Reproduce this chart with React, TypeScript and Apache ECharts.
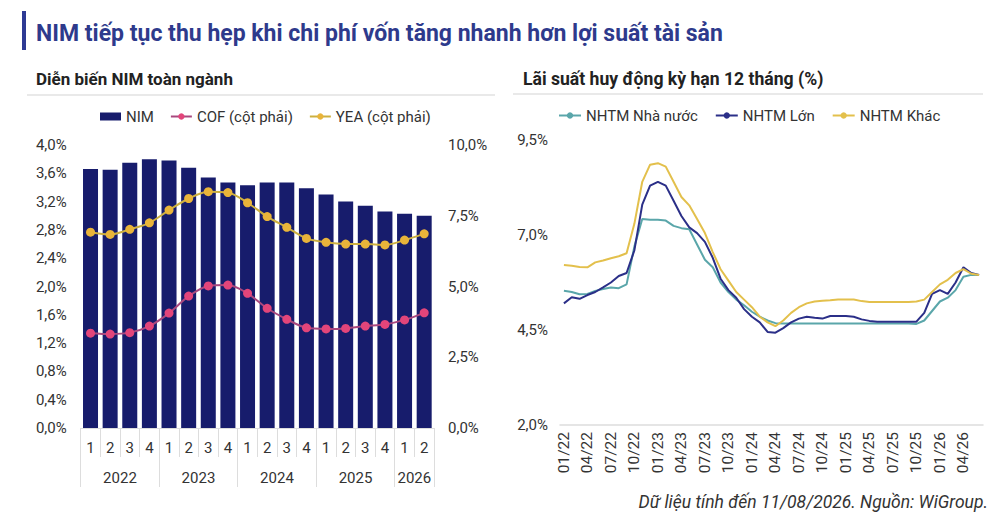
import React, { useEffect, useRef } from "react";
import * as echarts from "echarts";

// ---- Left chart data (quarterly) ----
const quarterLabels = ["1", "2", "3", "4", "1", "2", "3", "4", "1", "2", "3", "4", "1", "2", "3", "4", "1", "2"];
const quarterYears = [2022, 2022, 2022, 2022, 2023, 2023, 2023, 2023, 2024, 2024, 2024, 2024, 2025, 2025, 2025, 2025, 2026, 2026];
const nimValues = [3.66, 3.65, 3.75, 3.8, 3.78, 3.68, 3.54, 3.47, 3.43, 3.47, 3.47, 3.39, 3.3, 3.2, 3.14, 3.06, 3.03, 3.0];
const cofValues = [3.35, 3.32, 3.37, 3.6, 4.06, 4.66, 5.02, 5.05, 4.76, 4.23, 3.84, 3.54, 3.5, 3.52, 3.6, 3.66, 3.82, 4.07];
const yeaValues = [6.92, 6.84, 7.02, 7.25, 7.7, 8.11, 8.35, 8.32, 7.96, 7.47, 7.09, 6.7, 6.56, 6.5, 6.5, 6.47, 6.64, 6.86];
const leftTicks = [0, 0.4, 0.8, 1.2, 1.6, 2.0, 2.4, 2.8, 3.2, 3.6, 4.0];
const rightTicks = [0, 2.5, 5, 7.5, 10];

// ---- Right chart data (monthly) ----
const months = [
  "01/22", "02/22", "03/22", "04/22", "05/22", "06/22", "07/22", "08/22", "09/22", "10/22", "11/22", "12/22",
  "01/23", "02/23", "03/23", "04/23", "05/23", "06/23", "07/23", "08/23", "09/23", "10/23", "11/23", "12/23",
  "01/24", "02/24", "03/24", "04/24", "05/24", "06/24", "07/24", "08/24", "09/24", "10/24", "11/24", "12/24",
  "01/25", "02/25", "03/25", "04/25", "05/25", "06/25", "07/25", "08/25", "09/25", "10/25", "11/25", "12/25",
  "01/26", "02/26", "03/26", "04/26", "05/26", "06/26",
];
const nhaNuoc = [
  5.53, 5.5, 5.44, 5.45, 5.53, 5.58, 5.62, 5.6, 5.7, 6.7,
  7.42, 7.4, 7.4, 7.38, 7.24, 7.18, 7.15, 6.75, 6.35, 6.15,
  5.75, 5.5, 5.3, 5.15, 4.98, 4.85, 4.75, 4.68,
  4.67, 4.67, 4.67, 4.67, 4.67, 4.67, 4.67, 4.67, 4.67, 4.67, 4.67, 4.67, 4.67, 4.67, 4.67, 4.67, 4.67,
  4.66, 4.75, 5.0, 5.25, 5.35, 5.55, 5.9, 5.95, 5.95,
];
const lon = [
  5.2, 5.36, 5.32, 5.42, 5.5, 5.62, 5.75, 5.92, 6.0, 6.6,
  7.8, 8.3, 8.4, 8.3, 7.9, 7.5, 7.2, 7.05, 6.82, 6.4,
  5.85, 5.55, 5.35, 5.05, 4.85, 4.7, 4.45, 4.43, 4.55, 4.7,
  4.8, 4.85, 4.82, 4.8, 4.87, 4.87, 4.87, 4.85, 4.78, 4.74,
  4.72, 4.72, 4.72, 4.72, 4.72, 4.72, 4.95, 5.45, 5.55, 5.45,
  5.75, 6.15, 6.0, 5.95,
];
const khac = [
  6.21, 6.19, 6.16, 6.15, 6.28, 6.33, 6.39, 6.44, 6.52, 7.3,
  8.4, 8.85, 8.89, 8.8, 8.4, 8.0, 7.78, 7.42, 7.05, 6.55,
  6.1, 5.8, 5.5, 5.3, 5.1, 4.85, 4.7, 4.6, 4.75, 4.95,
  5.1, 5.2, 5.25, 5.27, 5.28, 5.3, 5.3, 5.3, 5.26, 5.24,
  5.24, 5.24, 5.24, 5.24, 5.24, 5.25, 5.3, 5.5, 5.7, 5.82,
  6.0, 6.1, 5.98, 5.95,
];
const rateTicks = [2.0, 4.5, 7.0, 9.5];

const FONT = "Roboto, 'Noto Sans', sans-serif";
const pct = (v: number) => v.toFixed(1).replace(".", ",") + "%";

// year groups derived from quarterYears
function yearGroups() {
  const groups: { year: number; start: number; count: number }[] = [];
  quarterYears.forEach((y, i) => {
    const last = groups[groups.length - 1];
    if (last && last.year === y) last.count++;
    else groups.push({ year: y, start: i, count: 1 });
  });
  return groups;
}

export default function App() {
  const ref = useRef<HTMLDivElement>(null);
  useEffect(() => {
    if (!ref.current) return;
    const chart = echarts.init(ref.current, undefined, { renderer: "svg" });
    const groups = yearGroups();
    const yearCenters = groups.map((g) => g.start + g.count / 2);
    const yearBounds = [0, ...groups.map((g) => g.start + g.count)];

    const option: any = {
      animation: false,
      backgroundColor: "#ffffff",
      textStyle: { fontFamily: FONT },
      graphic: [
        { type: "rect", shape: { x: 22, y: 11, width: 4, height: 39 }, style: { fill: "#2e3a94" } },
        {
          type: "text",
          x: 36,
          y: 33,
          style: {
            text: "NIM tiếp tục thu hẹp khi chi phí vốn tăng nhanh hơn lợi suất tài sản",
            fontFamily: FONT,
            fontSize: 23,
            fontWeight: "bold",
            fill: "#2e3a8c",
            verticalAlign: "middle",
          },
        },
        {
          type: "text",
          x: 36,
          y: 79,
          style: {
            text: "Diễn biến NIM toàn ngành",
            fontFamily: FONT,
            fontSize: 17,
            fontWeight: "bold",
            fill: "#222222",
            verticalAlign: "middle",
          },
        },
        {
          type: "text",
          x: 523,
          y: 79,
          style: {
            text: "Lãi suất huy động kỳ hạn 12 tháng (%)",
            fontFamily: FONT,
            fontSize: 17.6,
            fontWeight: "bold",
            fill: "#222222",
            verticalAlign: "middle",
          },
        },
        { type: "line", shape: { x1: 27, y1: 95, x2: 495, y2: 95 }, style: { stroke: "#e2e2e2", lineWidth: 1.5 } },
        { type: "line", shape: { x1: 513, y1: 94, x2: 983, y2: 94 }, style: { stroke: "#e2e2e2", lineWidth: 1.5 } },
        {
          type: "text",
          x: 988,
          y: 502,
          style: {
            text: "Dữ liệu tính đến 11/08/2026. Nguồn: WiGroup.",
            fontFamily: FONT,
            fontSize: 17.5,
            fontStyle: "italic",
            fill: "#333333",
            align: "right",
            verticalAlign: "middle",
          },
        },
      ],
      legend: [
        {
          left: 95,
          top: 104,
          itemWidth: 21,
          itemHeight: 8,
          itemGap: 16,
          textStyle: { fontSize: 15, color: "#333", fontFamily: FONT },
          data: [{ name: "NIM", icon: "rect" }, "COF (cột phải)", "YEA (cột phải)"],
        },
        {
          left: 553,
          top: 103,
          itemWidth: 22,
          itemHeight: 8,
          itemGap: 17,
          textStyle: { fontSize: 15, color: "#333", fontFamily: FONT },
          data: ["NHTM Nhà nước", "NHTM Lớn", "NHTM Khác"],
        },
      ],
      grid: [
        { left: 80.7, top: 145, width: 353.3, height: 283, containLabel: false },
        { left: 560, top: 140, width: 423, height: 285, containLabel: false },
      ],
      xAxis: [
        {
          type: "category",
          gridIndex: 0,
          data: quarterLabels,
          axisLine: { show: true, lineStyle: { color: "#dddddd" } },
          axisTick: { show: true, length: 29, lineStyle: { color: "#dddddd" } },
          axisLabel: { margin: 12, fontSize: 15, color: "#333", fontFamily: FONT },
          splitLine: { show: false },
        },
        {
          type: "value",
          gridIndex: 0,
          position: "bottom",
          min: 0,
          max: quarterLabels.length,
          axisLine: { show: false },
          axisTick: { show: true, length: 59, customValues: yearBounds, lineStyle: { color: "#dddddd" } },
          axisLabel: {
            margin: 42,
            fontSize: 15,
            color: "#333",
            fontFamily: FONT,
            customValues: yearCenters,
            formatter: (v: number) => {
              const idx = yearCenters.findIndex((c) => Math.abs(c - v) < 1e-6);
              return idx >= 0 ? String(groups[idx].year) : "";
            },
          },
          splitLine: { show: false },
        },
        {
          type: "category",
          gridIndex: 1,
          data: months,
          boundaryGap: true,
          axisLine: { show: true, lineStyle: { color: "#dddddd", width: 1.5 } },
          axisTick: { show: false },
          axisLabel: { interval: 2, rotate: 90, margin: 7, fontSize: 15.5, color: "#333", fontFamily: FONT },
          splitLine: { show: false },
        },
      ],
      yAxis: [
        {
          type: "value",
          gridIndex: 0,
          position: "left",
          min: 0,
          max: 4,
          axisLine: { show: false },
          axisTick: { show: false },
          splitLine: { show: false },
          axisLabel: { customValues: leftTicks, formatter: pct, margin: 14, fontSize: 15, color: "#333", fontFamily: FONT },
        },
        {
          type: "value",
          gridIndex: 0,
          position: "right",
          min: 0,
          max: 10,
          axisLine: { show: false },
          axisTick: { show: false },
          splitLine: { show: false },
          axisLabel: { customValues: rightTicks, formatter: pct, margin: 14, fontSize: 15, color: "#333", fontFamily: FONT },
        },
        {
          type: "value",
          gridIndex: 1,
          min: 2,
          max: 9.5,
          axisLine: { show: false },
          axisTick: { show: false },
          splitLine: { show: false },
          axisLabel: { customValues: rateTicks, formatter: pct, margin: 12, fontSize: 15, color: "#333", fontFamily: FONT },
        },
      ],
      series: [
        {
          name: "NIM",
          type: "bar",
          xAxisIndex: 0,
          yAxisIndex: 0,
          data: nimValues,
          barWidth: 15,
          itemStyle: { color: "#171c6c" },
        },
        {
          name: "COF (cột phải)",
          type: "line",
          xAxisIndex: 0,
          yAxisIndex: 1,
          data: cofValues,
          smooth: 0.3,
          symbol: "circle",
          symbolSize: 9,
          lineStyle: { color: "#a9487e", width: 2 },
          itemStyle: { color: "#e2457a" },
        },
        {
          name: "YEA (cột phải)",
          type: "line",
          xAxisIndex: 0,
          yAxisIndex: 1,
          data: yeaValues,
          smooth: 0.3,
          symbol: "circle",
          symbolSize: 9,
          lineStyle: { color: "#cdb040", width: 2 },
          itemStyle: { color: "#e9b43a" },
        },
        {
          name: "NHTM Nhà nước",
          type: "line",
          xAxisIndex: 2,
          yAxisIndex: 2,
          data: nhaNuoc,
          symbol: "none",
          lineStyle: { color: "#5aa6aa", width: 2 },
          itemStyle: { color: "#5aa6aa" },
        },
        {
          name: "NHTM Lớn",
          type: "line",
          xAxisIndex: 2,
          yAxisIndex: 2,
          data: lon,
          symbol: "none",
          lineStyle: { color: "#2b2f88", width: 2 },
          itemStyle: { color: "#2b2f88" },
        },
        {
          name: "NHTM Khác",
          type: "line",
          xAxisIndex: 2,
          yAxisIndex: 2,
          data: khac,
          symbol: "none",
          lineStyle: { color: "#e3c04c", width: 2 },
          itemStyle: { color: "#e3c04c" },
        },
      ],
    };
    chart.setOption(option);
    return () => chart.dispose();
  }, []);

  return (
    <div style={{ position: "fixed", left: 0, top: 0, width: 1000, height: 520, background: "#fff" }}>
      <div ref={ref} style={{ width: 1000, height: 520 }} />
    </div>
  );
}
